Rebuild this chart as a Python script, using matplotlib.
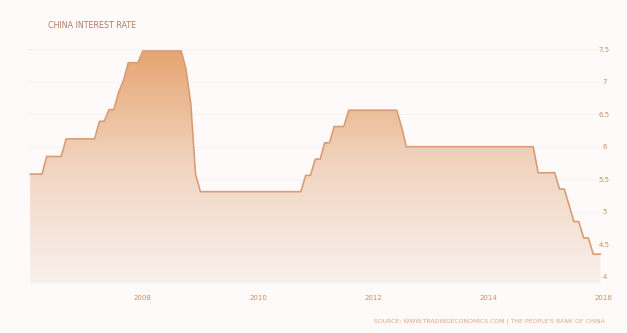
import matplotlib
matplotlib.use("Agg")
import matplotlib.pyplot as plt
import matplotlib.dates as mdates
import numpy as np
import pandas as pd
from matplotlib.colors import LinearSegmentedColormap
from matplotlib.patches import Polygon

# one-year benchmark lending rate, month-end observations where the line bends
dates = [
    "2006-01-15", "2006-03-31", "2006-04-30", "2006-07-31", "2006-08-31",
    "2007-02-28", "2007-03-31", "2007-04-30", "2007-05-31", "2007-06-30",
    "2007-07-31", "2007-08-31", "2007-09-30", "2007-11-30", "2007-12-31",
    "2008-08-31", "2008-09-30", "2008-10-31", "2008-11-30", "2008-12-31",
    "2010-09-30", "2010-10-31", "2010-11-30", "2010-12-31", "2011-01-31",
    "2011-02-28", "2011-03-31", "2011-04-30", "2011-06-30", "2011-07-31",
    "2012-05-31", "2012-06-30", "2012-07-31", "2014-10-15", "2014-11-15",
    "2015-02-28", "2015-03-31", "2015-04-30", "2015-05-31", "2015-06-30",
    "2015-07-31", "2015-08-31", "2015-09-30", "2015-10-31", "2015-12-15",
]
rates = [
    5.58, 5.58, 5.85, 5.85, 6.12,
    6.12, 6.39, 6.39, 6.57, 6.57,
    6.84, 7.02, 7.29, 7.29, 7.47,
    7.47, 7.20, 6.66, 5.58, 5.31,
    5.31, 5.56, 5.56, 5.81, 5.81,
    6.06, 6.06, 6.31, 6.31, 6.56,
    6.56, 6.31, 6.00, 6.00, 5.60,
    5.60, 5.35, 5.35, 5.10, 4.85,
    4.85, 4.60, 4.60, 4.35, 4.35,
]
year_ticks = [2008, 2010, 2012, 2014, 2016]
rate_ticks = [4, 4.5, 5, 5.5, 6, 6.5, 7, 7.5]
rate_labels = ["4", "4.5", "5", "5.5", "6", "6.5", "7", "7.5"]

BG = "#fefaf9"
LINE = "#d99d76"
TEXT = "#cc8f62"

x = mdates.date2num(pd.to_datetime(dates))
y = np.array(rates)
y_lo, y_hi = 3.9, 7.55

fig = plt.figure(figsize=(6.27, 3.33), dpi=100, facecolor=BG)
ax = fig.add_axes([28 / 627, 1 - 283.5 / 333, 575 / 627, 237.75 / 333])
ax.set_facecolor(BG)

x_lo = mdates.date2num(pd.Timestamp("2006-01-01"))
x_hi = mdates.date2num(pd.Timestamp("2016-01-01"))
ax.set_xlim(x_lo, x_hi)
ax.set_ylim(y_lo, y_hi)

for t in rate_ticks:
    ax.axhline(t, color="#f9efeb", lw=0.6, zorder=0)

# vertical gradient clipped to the area under the line
cmap = LinearSegmentedColormap.from_list(
    "rate", ["#f8f0ec", "#f1d5c0", "#e7a470"])
grad = np.linspace(0, 1, 256).reshape(-1, 1)
img = ax.imshow(grad, cmap=cmap, origin="lower", aspect="auto",
                extent=[x_lo, x_hi, y_lo, 7.5], zorder=1)
poly = Polygon(np.column_stack([np.r_[x[0], x, x[-1]],
                                np.r_[y_lo, y, y_lo]]),
               closed=True, facecolor="none", edgecolor="none")
ax.add_patch(poly)
img.set_clip_path(poly)

ax.plot(x, y, color=LINE, lw=1.2, zorder=2)

ax.set_xticks(mdates.date2num([pd.Timestamp(f"{yr}-01-01") for yr in year_ticks]))
ax.set_xticklabels([str(yr) for yr in year_ticks])
ax.set_yticks(rate_ticks)
ax.set_yticklabels(rate_labels)
ax.yaxis.tick_right()
ax.tick_params(axis="both", length=0, labelsize=5, labelcolor=TEXT)
ax.tick_params(axis="x", pad=8)
ax.tick_params(axis="y", pad=1)
for lbl in ax.get_yticklabels():
    lbl.set_horizontalalignment("center")
for s in ax.spines.values():
    s.set_visible(False)

fig.text(48 / 627, 1 - 25 / 333, "CHINA INTEREST RATE", fontsize=5.8,
         color="#b07c66", va="center", ha="left")
fig.text(605 / 627, 1 - 321 / 333,
         "SOURCE: WWW.TRADINGECONOMICS.COM | THE PEOPLE'S BANK OF CHINA",
         fontsize=4.4, color="#e2a57a", va="center", ha="right")

fig.savefig("out.png", dpi=100, facecolor=BG)
